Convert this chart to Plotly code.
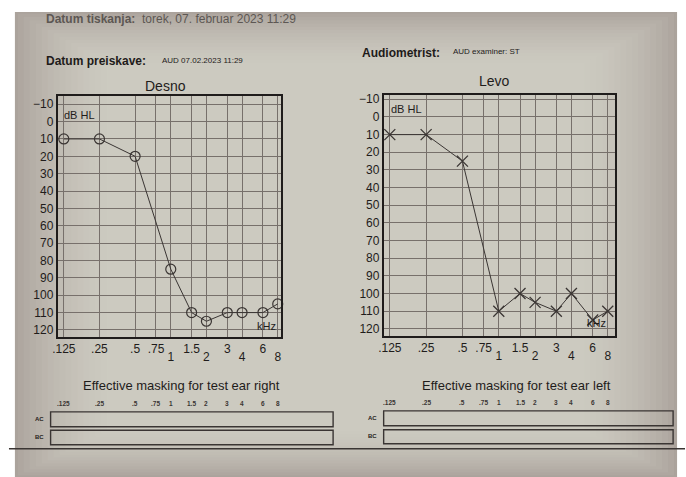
import math
import plotly.graph_objects as go

# ---- data ----
freqs = [0.125, 0.25, 0.5, 0.75, 1, 1.5, 2, 3, 4, 6, 8]
freq_ticktext_top = [".125", ".25", ".5", ".75", "", "1.5", "", "3", "", "6", ""]
freqs_low = [1, 2, 4, 8]
freq_ticktext_low = ["1", "2", "4", "8"]
mask_labels = [".125", ".25", ".5", ".75", "1", "1.5", "2", "3", "4", "6", "8"]
db_ticks = [-10, 0, 10, 20, 30, 40, 50, 60, 70, 80, 90, 100, 110, 120]

right_freq = [0.125, 0.25, 0.5, 1, 1.5, 2, 3, 4, 6, 8]
right_db = [10, 10, 20, 85, 110, 115, 110, 110, 110, 105]
left_freq = [0.125, 0.25, 0.5, 1, 1.5, 2, 3, 4, 6, 8]
left_db = [10, 10, 25, 110, 100, 105, 110, 100, 115, 110]

W, H = 686, 477
def px(x):
    return x / W
def py(y):
    return 1 - y / H

INK = "#1f1c1b"
GRID = "#77706b"
FONT = "Liberation Sans, Arial, sans-serif"

fig = go.Figure()
fig.add_trace(go.Scatter(x=right_freq, y=right_db, mode="lines+markers",
                         line=dict(color="#3a3533", width=1),
                         marker=dict(symbol="circle-open", size=10, color="#3a3533", line=dict(width=1.2)),
                         xaxis="x", yaxis="y", showlegend=False, cliponaxis=False, hoverinfo="skip"))
fig.add_trace(go.Scatter(x=left_freq, y=left_db, mode="lines+markers",
                         line=dict(color="#3a3533", width=1),
                         marker=dict(symbol="x-thin-open", size=11, color="#3a3533", line=dict(width=1.3)),
                         xaxis="x2", yaxis="y2", showlegend=False, cliponaxis=False, hoverinfo="skip"))
# invisible carriers so the second-row frequency axes are drawn
for xa, ya in [("x3", "y"), ("x4", "y2")]:
    fig.add_trace(go.Scatter(x=freqs_low, y=[None] * len(freqs_low), mode="markers", xaxis=xa, yaxis=ya,
                             showlegend=False, hoverinfo="skip"))

def xax(domain, rng, anchor):
    return dict(domain=domain, type="log", range=rng, tickmode="array", tickvals=freqs,
                ticktext=freq_ticktext_top, showgrid=True, gridcolor=GRID, gridwidth=1,
                showline=True, mirror=True, linecolor=INK, linewidth=1.6, zeroline=False,
                ticks="", anchor=anchor, tickfont=dict(family=FONT, size=12, color=INK), fixedrange=True)

def xax_low(domain, rng, anchor, over):
    return dict(domain=domain, type="log", range=rng, tickmode="array", tickvals=freqs_low,
                ticktext=freq_ticktext_low, showgrid=False, showline=False, zeroline=False,
                ticks="", anchor=anchor, overlaying=over, side="bottom", ticklabelstandoff=11,
                tickfont=dict(family=FONT, size=12, color=INK), fixedrange=True)

def yax(domain, rng, anchor):
    return dict(domain=domain, range=rng, tickmode="array", tickvals=db_ticks,
                showgrid=True, gridcolor=GRID, gridwidth=1, showline=True, mirror=True,
                linecolor=INK, linewidth=1.6, zeroline=False, ticks="", anchor=anchor,
                tickfont=dict(family=FONT, size=12, color=INK), fixedrange=True)

shapes = []
# paper background with soft vignette
shapes.append(dict(type="rect", xref="paper", yref="paper", x0=px(10), x1=px(678), y0=py(477), y1=py(9),
                   fillcolor="#aba39c", line=dict(width=0), layer="below"))
for i in range(16):
    inset = 3 + i * 6
    shapes.append(dict(type="rect", xref="paper", yref="paper",
                       x0=px(10 + inset), x1=px(678 - inset), y0=py(477 - inset * 0.5), y1=py(9 + inset * 0.55),
                       fillcolor="#dcd8d4", opacity=0.085, line=dict(width=0), layer="below"))

# masking boxes
for (x0, x1, ys) in [(46, 331, [(411.5, 426.5), (430, 444.5)]), (382, 674, [(410.5, 425.5), (429.5, 443.5)])]:
    for (y0, y1) in ys:
        shapes.append(dict(type="rect", xref="paper", yref="paper", x0=px(x0), x1=px(x1), y0=py(y1), y1=py(y0),
                           line=dict(color="#3a3533", width=1.4), fillcolor="rgba(0,0,0,0)"))
# bottom rule
shapes.append(dict(type="line", xref="paper", yref="paper", x0=px(4), x1=px(686), y0=py(448.5), y1=py(448.5),
                   line=dict(color="#3a3533", width=1.6)))

ann = []
def text(x, y, s, size, bold=False, color=INK, xanchor="left", xref="paper"):
    ann.append(dict(x=px(x) if xref == "paper" else x, y=py(y), xref=xref, yref="paper",
                    text=("<b>%s</b>" % s) if bold else s,
                    showarrow=False, xanchor=xanchor, yanchor="middle", borderpad=0,
                    font=dict(family=FONT, size=size, color=color)))

text(40, 16, "<b>Datum tiskanja:</b>  torek, 07. februar 2023 11:29", 12, color="#5d5753")
text(40, 58, "Datum preiskave:", 12, bold=True, color="#1e1b1a")
text(157, 58, "AUD 07.02.2023 11:29", 8, color="#1e1b1a")
text(359, 50, "Audiometrist:", 12, bold=True, color="#1e1b1a")
text(451, 49, "AUD examiner: ST", 8, color="#1e1b1a")

text(162, 84, "Desno", 14, xanchor="center")
text(494, 78, "Levo", 14, xanchor="center")
text(75, 113, "dB HL", 11, xanchor="center")
text(405, 107, "dB HL", 11, xanchor="center")
text(264, 325, "kHz", 11, xanchor="center")
text(597, 322, "kHz", 11, xanchor="center")

text(178, 385, "Effective masking for test ear right", 13, xanchor="center")
text(516, 385, "Effective masking for test ear left", 13, xanchor="center")
for f, lab in zip(freqs, mask_labels):
    text(math.log10(f), 403, lab, 6.5, bold=True, color="#3a3533", xanchor="center", xref="x")
    text(math.log10(f), 402, lab, 6.5, bold=True, color="#3a3533", xanchor="center", xref="x2")
text(35, 419, "AC", 6, bold=True, xanchor="center")
text(35, 437, "BC", 6, bold=True, xanchor="center")
text(371, 418, "AC", 6, bold=True, xanchor="center")
text(371, 436, "BC", 6, bold=True, xanchor="center")

xr1 = [-0.956, 0.927]
xr2 = [-0.954, 0.960]
d1 = [px(53), px(278)]
d2 = [px(382), px(615)]
fig.update_layout(
    width=W, height=H, margin=dict(l=0, r=0, t=0, b=0),
    paper_bgcolor="#ffffff", plot_bgcolor="rgba(0,0,0,0)",
    xaxis=xax(d1, xr1, "y"),
    yaxis=yax([py(336), py(94)], [124, -14.5], "x"),
    xaxis2=xax(d2, xr2, "y2"),
    yaxis2=yax([py(335), py(93)], [124, -12.2], "x2"),
    xaxis3=xax_low(d1, xr1, "y", "x"),
    xaxis4=xax_low(d2, xr2, "y2", "x2"),
    shapes=shapes, annotations=ann,
)

fig.write_html("out.html", config={"displayModeBar": False},
               post_script="document.body.style.margin='0';document.body.style.overflow='hidden';")
